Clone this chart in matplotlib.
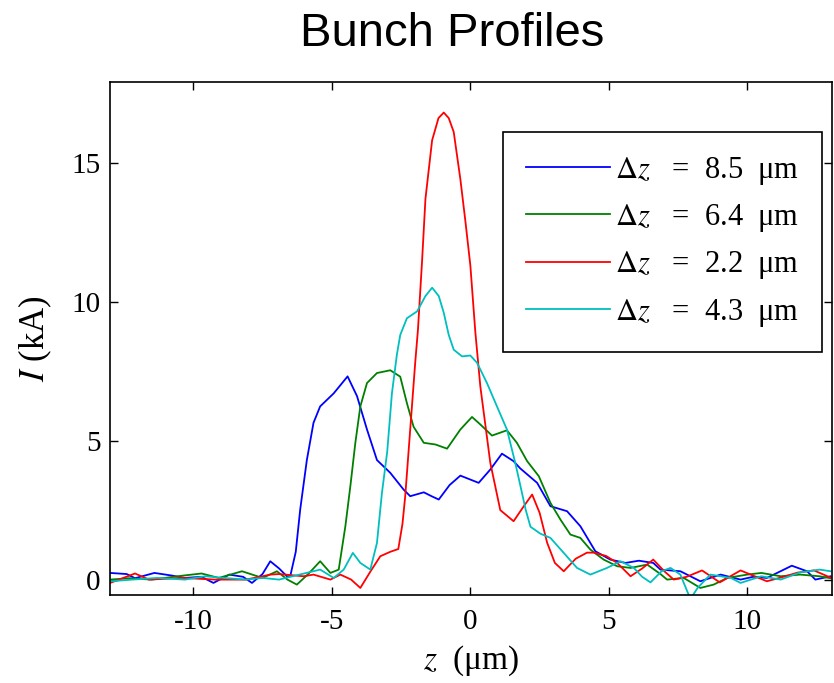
import matplotlib.pyplot as plt
import numpy as np

# data (z in um, I in kA)
z_blue = [-13.0, -12.4, -12.1, -11.4, -10.8, -10.3, -9.7, -9.27, -8.7, -8.2, -7.88, -7.5,
          -7.22, -6.9, -6.62, -6.5, -6.3, -6.14, -5.9, -5.66, -5.42, -4.93, -4.43, -4.09,
          -3.73, -3.37, -2.89, -2.41, -2.17, -1.68, -1.4, -1.14, -0.75, -0.36, 0.3, 0.72,
          1.14, 1.56, 1.8, 2.41, 2.89, 3.49, 3.97, 4.51, 5.05, 5.6, 6.08, 6.6, 6.86, 7.58,
          8.3, 9.03, 9.75, 10.2, 10.7, 11.6, 12.15, 12.45, 13.0]
i_blue = [0.24, 0.2, 0.05, 0.24, 0.15, 0.06, 0.1, -0.12, 0.18, 0.1, -0.12, 0.2,
          0.66, 0.4, 0.12, 0.12, 1.0, 2.52, 4.3, 5.64, 6.23, 6.7, 7.31, 6.6,
          5.4, 4.3, 3.84, 3.24, 3.0, 3.14, 3.0, 2.88, 3.4, 3.74, 3.48, 3.96,
          4.53, 4.26, 4.0, 3.48, 2.64, 2.46, 1.92, 1.02, 0.72, 0.6, 0.68, 0.6, 0.36, 0.3,
          -0.06, 0.18, 0.0, 0.1, 0.06, 0.5, 0.3, 0.0, 0.12]

z_green = [-13.0, -12.3, -11.5, -10.4, -9.7, -9.08, -8.24, -7.5, -6.98, -6.6, -6.26, -5.85,
           -5.42, -5.05, -4.75, -4.51, -4.33, -4.15, -3.97, -3.73, -3.37, -2.89, -2.53, -2.29,
           -2.05, -1.68, -1.26, -0.84, -0.36, 0.06, 0.36, 0.78, 1.32, 1.68, 2.05, 2.47,
           2.89, 3.25, 3.61, 3.97, 4.33, 4.81, 5.3, 5.78, 6.38, 6.86, 7.1, 7.7, 8.3, 8.78,
           9.27, 9.99, 10.5, 11.2, 11.9, 12.6, 13.0]
i_green = [0.0, 0.05, 0.0, 0.14, 0.22, 0.06, 0.3, 0.06, 0.3, 0.0, -0.18, 0.2,
           0.66, 0.24, 0.36, 1.92, 3.36, 4.92, 6.23, 7.07, 7.43, 7.53, 7.3, 6.35,
           5.5, 4.92, 4.86, 4.71, 5.4, 5.85, 5.58, 5.18, 5.37, 4.92, 4.26, 3.72,
           2.76, 2.16, 1.62, 1.5, 1.08, 0.72, 0.48, 0.42, 0.54, 0.2, 0.0, 0.06, -0.3, -0.18,
           0.06, 0.18, 0.24, 0.12, 0.18, 0.12, 0.05]

z_red = [-13.0, -12.1, -11.6, -10.4, -9.2, -8.1, -7.5, -7.22, -6.9, -6.02, -5.66, -5.05,
         -4.69, -4.3, -3.97, -3.6, -3.25, -2.89, -2.6, -2.45, -2.35, -2.17, -1.99, -1.89,
         -1.74, -1.62, -1.38, -1.15, -0.96, -0.78, -0.6, -0.36, -0.18, 0.0, 0.18, 0.36, 0.72, 1.08,
         1.56, 1.9, 2.23, 2.5, 2.77, 3.05, 3.37, 3.8, 4.21, 4.45, 4.9, 5.3, 5.78, 6.2,
         6.6, 7.0, 7.34, 7.8, 8.36, 9.0, 9.75, 10.7, 11.3, 11.8, 12.4, 13.0]
i_red = [-0.12, 0.22, 0.0, 0.06, 0.0, 0.0, 0.12, 0.18, 0.2, 0.12, 0.18, 0.0,
         0.18, 0.0, -0.3, 0.3, 0.84, 1.0, 1.1, 2.0, 3.0, 5.4, 7.8, 9.0,
         11.5, 13.7, 15.8, 16.6, 16.8, 16.6, 16.1, 14.4, 12.9, 11.3, 8.9, 6.95, 4.2, 2.5,
         2.1, 2.6, 3.06, 2.4, 1.33, 0.6, 0.3, 0.75, 0.97, 0.97, 0.85, 0.6, 0.12, 0.4,
         0.72, 0.3, 0.0, 0.1, 0.33, -0.1, 0.33, -0.06, 0.1, 0.25, 0.33, 0.07]

z_cyan = [-13.0, -12.2, -11.3, -10.3, -9.57, -8.9, -8.1, -7.5, -6.9, -6.5, -6.08, -5.42,
          -4.93, -4.57, -4.24, -3.97, -3.61, -3.37, -3.19, -3.0, -2.83, -2.65, -2.53, -2.29,
          -1.92, -1.62, -1.38, -1.14, -0.96, -0.78, -0.6, -0.3, 0.0, 0.24, 0.6, 0.96,
          1.32, 1.62, 1.8, 2.0, 2.17, 2.53, 2.89, 3.37, 3.85, 4.33, 4.93, 5.42, 5.9, 6.2,
          6.5, 6.9, 7.22, 7.58, 7.94, 8.2, 8.66, 9.4, 9.75, 10.5, 11.2, 11.9, 12.6, 13.0]
i_cyan = [-0.06, 0.0, 0.06, 0.0, 0.12, 0.06, 0.0, 0.06, 0.0, 0.1, 0.2, 0.36,
          0.06, 0.36, 0.96, 0.6, 0.36, 1.32, 3.12, 4.6, 6.7, 8.1, 8.8, 9.4,
          9.65, 10.2, 10.5, 10.2, 9.6, 8.8, 8.27, 8.03, 8.06, 7.8, 7.07, 6.23,
          5.4, 4.2, 3.4, 2.5, 1.9, 1.65, 1.5, 0.96, 0.42, 0.18, 0.42, 0.66, 0.42, 0.1,
          -0.1, 0.3, 0.42, 0.18, -0.7, -0.3, 0.18, 0.06, -0.12, 0.12, 0.0, 0.26, 0.36, 0.3]

labels = ['8.5', '6.4', '2.2', '4.3']
colors = ['#0000ff', '#008000', '#ff0000', '#00bfbf']

plt.rcParams.update({
    'font.family': 'Liberation Serif',
    'mathtext.fontset': 'stix',
    'font.size': 20,
    'axes.unicode_minus': False,
})

fig = plt.figure(figsize=(8.34, 6.83), dpi=100)
ax = fig.add_axes([0.132, 0.129, 0.8656, 0.751])

series = [(z_blue, i_blue), (z_green, i_green), (z_red, i_red), (z_cyan, i_cyan)]
for (zz, ii), lab, col in zip(series, labels, colors):
    ax.plot(zz, ii, color=col, lw=1.3, label='$\\Delta z$   =  ' + lab + '  \u03bcm')

ax.set_xlim(-13, 13.05)
ax.set_ylim(-0.55, 17.9)
ax.set_xticks([-10, -5, 0, 5, 10])
ax.set_yticks([0, 5, 10, 15])
ax.tick_params(direction='in', length=6, width=1, top=True, right=True, labelsize=21)
ax.tick_params(axis='x', pad=10)
ax.tick_params(axis='y', pad=7)
for s in ax.spines.values():
    s.set_linewidth(1.2)

ax.set_xlabel('$z$  (\u03bcm)', fontsize=24, labelpad=6)
ax.set_ylabel('$I$ (kA)', fontsize=25, labelpad=12)

leg = ax.legend(loc='upper right', bbox_to_anchor=(0.986, 0.9025), fancybox=False,
                edgecolor='black', framealpha=1, handlelength=2.75, handletextpad=0.15,
                labelspacing=0.5, borderpad=0.75, borderaxespad=0, fontsize=22)
leg.get_frame().set_linewidth(1.2)

fig.text(0.542, 0.95, 'Bunch Profiles', ha='center', va='center',
         family='Liberation Sans', fontsize=34)

fig.savefig('out.png', dpi=100)
